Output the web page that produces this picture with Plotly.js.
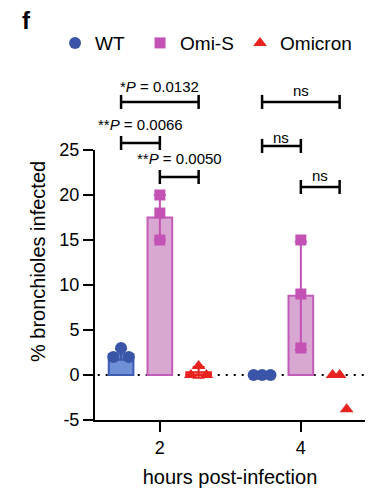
<!DOCTYPE html>
<html><head><meta charset="utf-8">
<script src="https://cdn.plot.ly/plotly-3.0.1.min.js"></script>
<style>html,body{margin:0;padding:0;background:#fff}#chart{width:391px;height:489px}</style>
</head><body><div id="chart"></div>
<script>
// ---------------- DATA ----------------
const timepoints = [2, 4];
const seriesNames = ['WT', 'Omi-S', 'Omicron'];
// replicate values per time point (2 h, 4 h)
const wtPoints = [[3.0, 2.0, 2.0], [0, 0, 0]];
const omiSPoints = [[20.0, 18.0, 15.0], [15.0, 9.0, 3.0]];
const omicronPoints = [[1.0, 0, 0], [0, 0, -3.8]];
// bar heights and error bars (null = not drawn)
const wtMean = [2.3, null];
const wtSD = [0.6, null];
const omiSMean = [17.5, 8.8];
const omiSSD = [2.5, 6.0];
const omicronMean = [0.3, null];
const omicronSD = [0.6, null];
const yTicks = [-5, 0, 5, 10, 15, 20, 25];
const xTicks = [2, 4];
// significance comparisons: time point, series pair, label
const compTime = [2, 2, 2, 4, 4, 4];
const compPairs = [['WT', 'Omicron'], ['WT', 'Omi-S'], ['Omi-S', 'Omicron'],
                   ['WT', 'Omicron'], ['WT', 'Omi-S'], ['Omi-S', 'Omicron']];
const compLabels = ['*<i>P</i> = 0.0132', '**<i>P</i> = 0.0066', '**<i>P</i> = 0.0050', 'ns', 'ns', 'ns'];

// ---------------- STYLE / LAYOUT ----------------
const FONT = 'Arial, "Liberation Sans", sans-serif';
const groupOffset = {'WT': -0.55, 'Omi-S': 0, 'Omicron': 0.55};
const jitter = {
  'WT': [[0, -0.11, 0.11], [-0.12, 0, 0.12]],
  'Omi-S': [[0, 0, 0], [0, 0, 0]],
  'Omicron': [[0, -0.11, 0.11], [-0.1, 0, 0.1]]
};
const styles = {
  'WT': {pt: '#3A55A8', fill: '#6E90D6', line: '#3F5CB0', symbol: 'circle', size: 12, lw: 40},
  'Omi-S': {pt: '#C452B4', fill: '#D8A8D2', line: '#C35CB6', symbol: 'square', size: 11, lw: 55},
  'Omicron': {pt: '#E8231F', fill: '#F08A86', line: '#E8231F', symbol: 'triangle-up', size: 12, lw: 90}
};
const bracketY = [1.178, 1.026, 0.900, 1.178, 1.015, 0.863];   // paper units
const labelY = [1.237, 1.093, 0.967, 1.222, 1.048, 0.907];
const pointsBy = {'WT': wtPoints, 'Omi-S': omiSPoints, 'Omicron': omicronPoints};
const meanBy = {'WT': wtMean, 'Omi-S': omiSMean, 'Omicron': omicronMean};
const sdBy = {'WT': wtSD, 'Omi-S': omiSSD, 'Omicron': omicronSD};

const traces = [];
seriesNames.forEach(name => {
  const st = styles[name];
  traces.push({
    type: 'bar', name: name, showlegend: false, hoverinfo: 'skip',
    x: timepoints.map(t => t + groupOffset[name]),
    y: meanBy[name], width: 0.35,
    marker: {color: st.fill, line: {color: st.line, width: 2}},
    error_y: {type: 'data', array: sdBy[name], visible: true, color: st.pt, thickness: 2, width: 6}
  });
});
seriesNames.forEach(name => {
  const st = styles[name];
  const xs = [], ys = [];
  timepoints.forEach((t, i) => {
    pointsBy[name][i].forEach((v, j) => {
      xs.push(t + groupOffset[name] + jitter[name][i][j]);
      ys.push(v);
    });
  });
  traces.push({
    type: 'scatter', mode: 'markers', name: name, x: xs, y: ys,
    legendwidth: st.lw, cliponaxis: false,
    marker: {color: st.pt, symbol: st.symbol, size: st.size, line: {width: 0}}
  });
});

const shapes = [{
  type: 'line', xref: 'paper', yref: 'y', x0: 0.01, x1: 1, y0: 0, y1: 0,
  line: {color: '#000', width: 2, dash: '2px,6px'}, layer: 'below'
}];
const annotations = [];
compLabels.forEach((lab, k) => {
  const t = compTime[k];
  const xa = t + groupOffset[compPairs[k][0]];
  const xb = t + groupOffset[compPairs[k][1]];
  const yb = bracketY[k], h = 0.026;
  const ln = {color: '#000', width: 2.5};
  shapes.push({type: 'line', xref: 'x', yref: 'paper', x0: xa, x1: xb, y0: yb, y1: yb, line: ln});
  shapes.push({type: 'line', xref: 'x', yref: 'paper', x0: xa, x1: xa, y0: yb - h, y1: yb + h, line: ln});
  shapes.push({type: 'line', xref: 'x', yref: 'paper', x0: xb, x1: xb, y0: yb - h, y1: yb + h, line: ln});
  annotations.push({xref: 'x', yref: 'paper', x: (xa + xb) / 2, y: labelY[k], text: lab,
    showarrow: false, xanchor: 'center', yanchor: 'middle', font: {family: FONT, size: 15, color: '#000'}});
});
annotations.push({xref: 'paper', yref: 'paper', x: -0.252, y: 1.481, text: '<b>f</b>', showarrow: false,
  xanchor: 'center', yanchor: 'middle', font: {family: FONT, size: 24, color: '#000'}});
annotations.push({xref: 'paper', yref: 'paper', x: -0.211, y: 0.585, text: '% bronchioles infected',
  textangle: -90, showarrow: false, xanchor: 'center', yanchor: 'middle',
  font: {family: FONT, size: 20, color: '#000'}});

const layout = {
  width: 391, height: 489,
  margin: {l: 95, r: 26, t: 150, b: 69, pad: 0},
  paper_bgcolor: '#fff', plot_bgcolor: '#fff',
  font: {family: FONT, color: '#000'},
  barmode: 'overlay',
  showlegend: true,
  legend: {orientation: 'h', x: -0.148, xanchor: 'left', y: 1.396, yanchor: 'middle',
    font: {family: FONT, size: 19, color: '#000'}, bgcolor: 'rgba(0,0,0,0)', itemwidth: 30},
  xaxis: {range: [1.08, 4.91], tickvals: xTicks, ticktext: xTicks.map(String),
    ticks: 'outside', ticklen: 10, tickwidth: 2, tickcolor: '#000',
    showline: true, linewidth: 2, linecolor: '#000', showgrid: false, zeroline: false,
    tickfont: {family: FONT, size: 18, color: '#000'},
    title: {text: 'hours post-infection', standoff: 13, font: {family: FONT, size: 20, color: '#000'}}},
  yaxis: {range: [-5, 25], tickvals: yTicks, ticktext: yTicks.map(String),
    ticks: 'outside', ticklen: 10, tickwidth: 2, tickcolor: '#000',
    showline: true, linewidth: 2, linecolor: '#000', showgrid: false, zeroline: false,
    tickfont: {family: FONT, size: 18, color: '#000'}},
  shapes: shapes, annotations: annotations
};
Plotly.newPlot('chart', traces, layout, {displayModeBar: false, staticPlot: true});
</script></body></html>
